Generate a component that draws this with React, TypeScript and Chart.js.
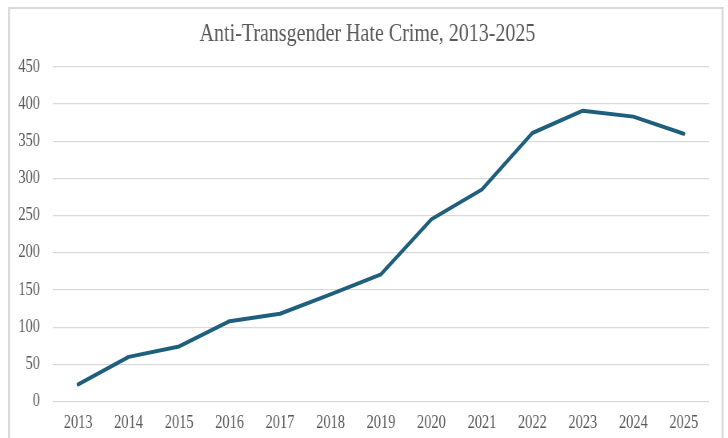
import React, { useEffect, useRef } from "react";
import { Chart, registerables } from "chart.js";

Chart.register(...registerables);

const years = ["2013", "2014", "2015", "2016", "2017", "2018", "2019", "2020", "2021", "2022", "2023", "2024", "2025"];
const crimes = [23, 60, 74, 108, 118, 144, 171, 245, 285, 361, 391, 383, 360];
const yTicksMax = 450;
const yTickStep = 50;
const chartTitle = "Anti-Transgender Hate Crime, 2013-2025";

// The reference is horizontally compressed; draw wider and squeeze with CSS.
const SQUEEZE = 0.8;
const VIEW_W = 728;
const VIEW_H = 438;
const LOGICAL_W = VIEW_W / SQUEEZE;
const FONT = "'Liberation Serif', 'Times New Roman', serif";

const decorPlugin = {
  id: "decor",
  beforeDraw(chart: any) {
    const ctx = chart.ctx;
    ctx.save();
    ctx.fillStyle = "#ffffff";
    ctx.fillRect(0, 0, chart.width, chart.height);
    ctx.fillStyle = "#d9d9d9";
    ctx.fillRect(10, 7, 2.5, chart.height);
    ctx.fillRect(901.9, 7, 2.5, chart.height);
    ctx.fillRect(10, 7, 894.4, 2);
    ctx.restore();
  },
  afterDraw(chart: any) {
    const ctx = chart.ctx;
    ctx.save();
    ctx.fillStyle = "#595959";
    ctx.font = `25px ${FONT}`;
    ctx.textAlign = "center";
    ctx.textBaseline = "alphabetic";
    ctx.fillText(chartTitle, 459.4, 41);
    ctx.restore();
  },
};

export default function App() {
  const ref = useRef<HTMLCanvasElement>(null);
  useEffect(() => {
    if (!ref.current) return;
    const chart = new Chart(ref.current, {
      type: "line",
      data: {
        labels: years,
        datasets: [
          {
            data: crimes,
            borderColor: "#1e5f7d",
            borderWidth: 4,
            pointRadius: 0,
            tension: 0,
            fill: false,
            borderCapStyle: "round",
            borderJoinStyle: "round",
          },
        ],
      },
      options: {
        animation: false,
        responsive: false,
        maintainAspectRatio: false,
        layout: { padding: { top: 66.8, left: 5, right: 23.75, bottom: 0 } },
        plugins: {
          legend: { display: false },
          tooltip: { enabled: false },
          title: { display: false },
        },
        scales: {
          x: {
            offset: true,
            grid: { display: false, drawTicks: false },
            border: { display: false },
            ticks: {
              color: "#595959",
              font: { family: FONT, size: 18 },
              padding: 11,
              maxRotation: 0,
              autoSkip: false,
            },
            afterFit(scale: any) {
              scale.height = 36.5;
            },
          },
          y: {
            min: 0,
            max: yTicksMax,
            grid: { color: "#d9d9d9", lineWidth: 1.2, drawTicks: false },
            border: { display: false },
            ticks: {
              stepSize: yTickStep,
              color: "#595959",
              font: { family: FONT, size: 18 },
              padding: 16.25,
            },
            afterFit(scale: any) {
              scale.width = 61.25;
            },
          },
        },
      },
      plugins: [decorPlugin],
    });
    return () => chart.destroy();
  }, []);
  return (
    <div
      style={{
        position: "fixed",
        left: 0,
        top: 0,
        width: VIEW_W,
        height: VIEW_H,
        overflow: "hidden",
        background: "#fff",
      }}
    >
      <canvas
        ref={ref}
        width={LOGICAL_W}
        height={VIEW_H}
        style={{
          display: "block",
          width: LOGICAL_W + "px",
          height: VIEW_H + "px",
          transform: `scaleX(${SQUEEZE})`,
          transformOrigin: "0 0",
        }}
      />
    </div>
  );
}
